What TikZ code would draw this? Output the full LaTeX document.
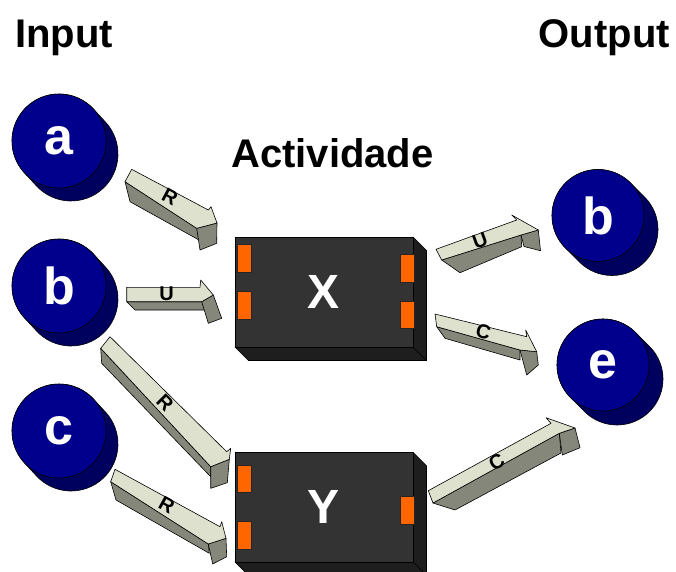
\documentclass[tikz,border=0pt]{standalone}
\usepackage{fontspec}
\setmainfont{Liberation Sans}
\usetikzlibrary{calc}

\definecolor{navyfront}{RGB}{0,0,140}
\definecolor{navyback}{RGB}{0,0,95}
\definecolor{chipfront}{RGB}{51,51,51}
\definecolor{chipside}{RGB}{30,30,30}
\definecolor{pinorange}{RGB}{255,102,0}
\definecolor{arrowlight}{RGB}{222,225,206}
\definecolor{arrowgray}{RGB}{133,135,122}

% disc with an extruded back part: name, cx, cy, radius, dx, dy, letter
\newcommand{\puck}[7]{%
  \pgfmathsetmacro{\pang}{atan2(#6,#5)}%
  \coordinate (#1) at (#2,#3);
  \filldraw[edge, fill=navyback]
    ([shift={(\pang-90:#4)}]#2,#3) -- ([shift={(\pang-90:#4)}]#2+#5,#3+#6)
    arc[start angle=\pang-90, end angle=\pang+90, radius=#4]
    -- ([shift={(\pang+90:#4)}]#2,#3)
    arc[start angle=\pang+90, end angle=\pang+270, radius=#4] -- cycle;
  \filldraw[edge, fill=navyfront] (#1) circle[radius=#4];
  \node[ballletter] (#1-txt) at (#1) {#7};
}

% block with depth: name, x1, y1, x2, y2, depth, letter
\newcommand{\chip}[7]{%
  \filldraw[edge, fill=chipside] (#4,#3) -- (#4+#6,#3+#6) -- (#4+#6,#5+#6) -- (#4,#5) -- cycle;
  \filldraw[edge, fill=chipside] (#2,#5) -- (#4,#5) -- (#4+#6,#5+#6) -- (#2+#6,#5+#6) -- cycle;
  \filldraw[edge, fill=chipfront] (#2,#3) rectangle (#4,#5);
  \node[boxletter] (#1) at ({(#2+#4)/2},{(#3+#5)/2}) {#7};
}

% pin on a block: x1, y1, x2, y2
\newcommand{\pinrect}[4]{\filldraw[pin] (#1,#2) rectangle (#3,#4);}

% solid arrow from its named corner points
\newcommand{\solidarrow}[1]{%
  \filldraw[arrowside] (#1-E) -- (#1-D) -- (#1-D2) -- (#1-E2) -- cycle;
  \filldraw[arrowside] (#1-D) -- (#1-T) -- (#1-T3) -- (#1-D3) -- cycle;
  \filldraw[arrowtop] (#1-S) -- (#1-B) -- (#1-Ub) -- (#1-T) -- (#1-D) -- (#1-E) -- cycle;
}

\begin{document}
\begin{tikzpicture}[x=1pt,y=-1pt,
  edge/.style={draw=black, line width=0.6pt, line join=round},
  arrowtop/.style={edge, fill=arrowlight},
  arrowside/.style={edge, fill=arrowgray},
  arrowlabel/.style={font=\bfseries\fontsize{20}{20}\selectfont, text=black, inner sep=0pt},
  title/.style={font=\bfseries\fontsize{40}{40}\selectfont, inner sep=0pt},
  ballletter/.style={font=\bfseries\fontsize{52}{52}\selectfont, text=white, inner sep=0pt},
  boxletter/.style={font=\bfseries\fontsize{48}{48}\selectfont, text=white, inner sep=0pt},
  pin/.style={draw=black!85, line width=0.5pt, fill=pinorange},
]
\useasboundingbox (0,0) rectangle (676,571);

% headings
\node[title, anchor=base west] (input) at (15,47) {Input};
\node[title, anchor=base east] (output) at (670,47) {Output};
\node[title, anchor=base west] (activity) at (231,167) {Actividade};

% arrows: corner points (top face S-B-Ub-T-D-E, side faces below)
\path (131.7,169.3) coordinate (r1-S) (208.3,210) coordinate (r1-B)
      (211,206.7) coordinate (r1-Ub) (217,223) coordinate (r1-T)
      (196.7,228.3) coordinate (r1-D) (125,181.7) coordinate (r1-E)
      (130,201.7) coordinate (r1-E2) (199,240) coordinate (r1-D2)
      (216.7,243.3) coordinate (r1-T3) (200,250) coordinate (r1-D3);
\path (126.7,287.3) coordinate (u1-S) (200,287.3) coordinate (u1-B)
      (200.7,280) coordinate (u1-Ub) (213.3,295) coordinate (u1-T)
      (201.7,301.7) coordinate (u1-D) (126.7,301.7) coordinate (u1-E)
      (135,310) coordinate (u1-E2) (206,310) coordinate (u1-D2)
      (221.7,318.3) coordinate (u1-T3) (208.3,323.3) coordinate (u1-D3);
\path (110,336.7) coordinate (r2-S) (226.7,451.7) coordinate (r2-B)
      (230.7,448.3) coordinate (r2-Ub) (229.3,459.3) coordinate (r2-T)
      (210.7,466.7) coordinate (r2-D) (100.7,348.3) coordinate (r2-E)
      (101.7,363.3) coordinate (r2-E2) (210.7,476.7) coordinate (r2-D2)
      (227.3,482.7) coordinate (r2-T3) (210.7,488.3) coordinate (r2-D3);
\path (115,469.3) coordinate (r3-S) (220,526.7) coordinate (r3-B)
      (221.7,521.7) coordinate (r3-Ub) (226,538.3) coordinate (r3-T)
      (208.3,544) coordinate (r3-D) (110.7,481.7) coordinate (r3-E)
      (116,500) coordinate (r3-E2) (209.3,553.3) coordinate (r3-D2)
      (226.7,556.7) coordinate (r3-T3) (212.7,564) coordinate (r3-D3);
\path (436,249.3) coordinate (u2-S) (516.7,220) coordinate (u2-B)
      (511.7,215) coordinate (u2-Ub) (538.3,230) coordinate (u2-T)
      (521,235) coordinate (u2-D) (441.7,260) coordinate (u2-E)
      (460,272.7) coordinate (u2-E2) (521.7,246.7) coordinate (u2-D2)
      (540.5,250.7) coordinate (u2-T3) (524,246.5) coordinate (u2-D3);
\path (435,314) coordinate (c1-S) (526.7,336.7) coordinate (c1-B)
      (525.7,330) coordinate (c1-Ub) (536.7,351.7) coordinate (c1-T)
      (520,350) coordinate (c1-D) (436.7,326.7) coordinate (c1-E)
      (445,338.3) coordinate (c1-E2) (520,360) coordinate (c1-D2)
      (538.3,365) coordinate (c1-T3) (526.7,375) coordinate (c1-D3);
\path (428.3,490.7) coordinate (c2-S) (551,423.3) coordinate (c2-B)
      (546,417.7) coordinate (c2-Ub) (575,428) coordinate (c2-T)
      (559.3,433.3) coordinate (c2-D) (433,503) coordinate (c2-E)
      (455,510) coordinate (c2-E2) (561,453) coordinate (c2-D2)
      (580,447.7) coordinate (c2-T3) (562.3,455) coordinate (c2-D3);

\solidarrow{r1}
\solidarrow{u1}
\solidarrow{r2}
\solidarrow{r3}
\solidarrow{u2}
\solidarrow{c1}
\solidarrow{c2}

\node[arrowlabel, rotate=-28] (r1-lbl) at (170,196.5) {R};
\node[arrowlabel] (u1-lbl) at (166.7,294) {U};
\node[arrowlabel, rotate=-45] (r2-lbl) at (165,402.5) {R};
\node[arrowlabel, rotate=-29] (r3-lbl) at (166.7,504.5) {R};
\node[arrowlabel, rotate=20] (u2-lbl) at (480,241) {U};
\node[arrowlabel, rotate=-15] (c1-lbl) at (483.3,331.5) {C};
\node[arrowlabel, rotate=29] (c2-lbl) at (496.7,461.5) {C};

% input and output items
\puck{ina}{59}{141}{47}{12}{13}{a}
\puck{inb}{59}{286}{47}{12}{13}{b}
\puck{inc}{59}{431}{47}{12}{13}{c}
\puck{outb}{598}{215.5}{46}{14}{14}{b}
\puck{oute}{603}{365}{46}{14}{14}{e}

% activities
\chip{X}{235}{237}{413}{347}{13.5}{X}
\pinrect{237.7}{244}{251.7}{272}
\pinrect{237.7}{291.7}{251.7}{319}
\pinrect{400.7}{254}{414.3}{282.3}
\pinrect{400.7}{301}{414.3}{328.7}

\chip{Y}{235}{452.3}{413}{562}{13.5}{Y}
\pinrect{237.7}{465}{251.7}{492.7}
\pinrect{237.7}{521}{251.7}{549}
\pinrect{400.7}{496.7}{414.3}{524.3}
\end{tikzpicture}
\end{document}
